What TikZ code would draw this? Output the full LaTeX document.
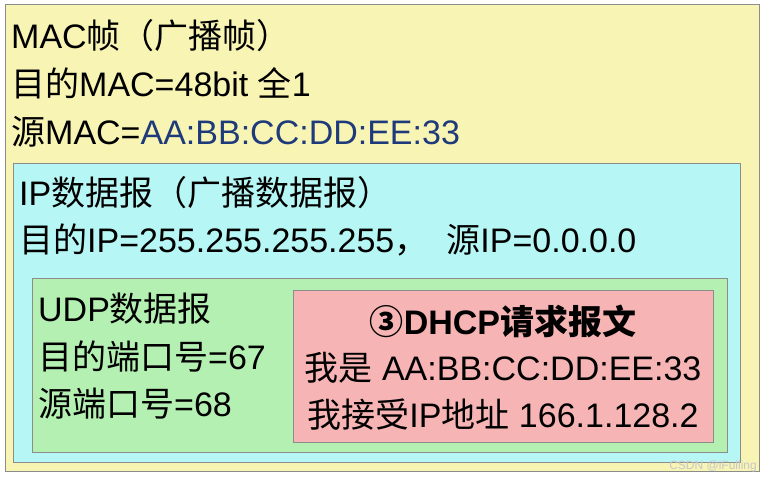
\documentclass[tikz,border=0pt]{standalone}
\usepackage{fontspec}
\setmainfont{Liberation Sans}
\newfontfamily\cjk{Noto Sans CJK SC}
\definecolor{ybg}{HTML}{F8F5B4}
\definecolor{cbg}{HTML}{B6F6F4}
\definecolor{gbg}{HTML}{B4F0B2}
\definecolor{rbg}{HTML}{F6B4B4}
\definecolor{bordergray}{HTML}{8C8C8C}
\definecolor{macblue}{HTML}{1E3A7A}
\begin{document}
\begin{tikzpicture}[x=1pt,y=-1pt,
  boxstyle/.style={draw=bordergray, line width=1pt, anchor=north west, inner sep=0pt},
  txt/.style={anchor=base west, inner sep=0pt, font=\fontsize{34}{40}\selectfont},
  ctxt/.style={anchor=base, inner sep=0pt, font=\fontsize{34}{40}\selectfont}]
\useasboundingbox (0,0) rectangle (768,479);
\fill[white] (0,0) rectangle (768,479);
% boxes
\node[boxstyle, fill=ybg, minimum width=754pt, minimum height=467pt] (mac) at (5,4) {};
\node[boxstyle, fill=cbg, minimum width=727pt, minimum height=299pt] (ip) at (13,163) {};
\node[boxstyle, fill=gbg, minimum width=695pt, minimum height=174pt] (udp) at (32,278) {};
\node[boxstyle, fill=rbg, minimum width=420pt, minimum height=152pt] (dhcp) at (293,290) {};
% MAC texts
\node[txt] (m1) at (11,48) {MAC{\cjk 帧（广播帧）}};
\node[txt] (m2) at (11,96) {{\cjk 目的}MAC=48bit {\cjk 全}1};
\node[txt] (m3) at (11,144) {{\cjk 源}MAC=\textcolor{macblue}{AA:BB:CC:DD:EE:33}};
% IP texts
\node[txt] (i1) at (19,205) {IP{\cjk 数据报（广播数据报）}};
\node[txt] (i2) at (19,252) {{\cjk 目的}IP=255.255.255.255{\cjk ，}\hspace{18pt}{\cjk 源}IP=0.0.0.0};
% UDP texts
\node[txt] (u1) at (38,321) {UDP{\cjk 数据报}};
\node[txt] (u2) at (38,369) {{\cjk 目的端口号}=67};
\node[txt] (u3) at (38,416) {{\cjk 源端口号}=68};
% DHCP texts
\node[ctxt] (d1) at (503,334) {{\cjk\bfseries ③}\textbf{DHCP}{\cjk\bfseries 请求报文}};
\node[ctxt] (d2) at (503,380) {{\cjk 我是} AA:BB:CC:DD:EE:33};
\node[ctxt] (d3) at (503,427) {{\cjk 我接受}IP{\cjk 地址} 166.1.128.2};
% watermark
\node[anchor=base east, inner sep=0pt, font=\fontsize{12}{14}\selectfont, text=black!22] (wm) at (757,469) {CSDN @iFulling};
\end{tikzpicture}
\end{document}
